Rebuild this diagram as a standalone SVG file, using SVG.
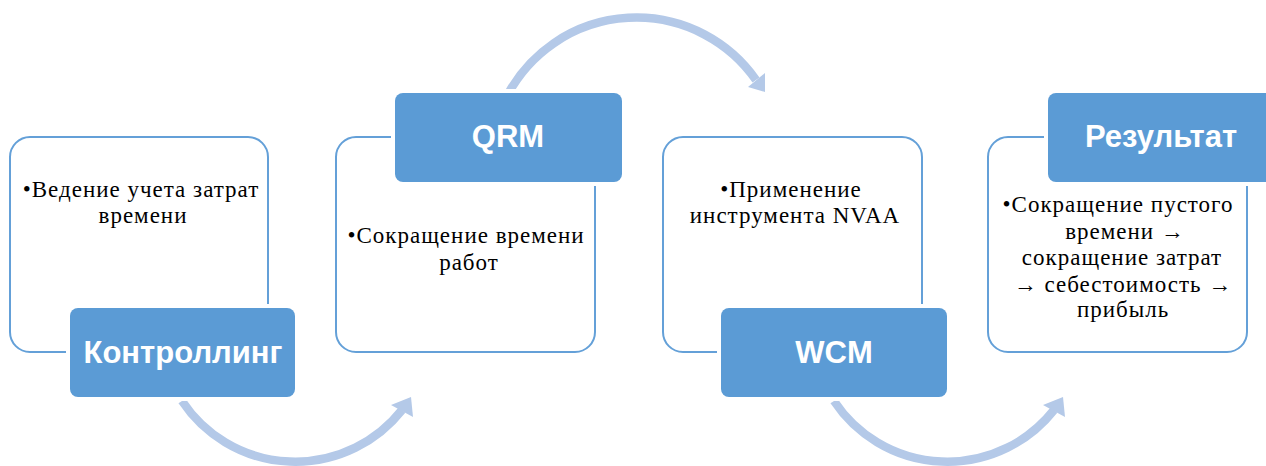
<svg xmlns="http://www.w3.org/2000/svg" width="1266" height="466" viewBox="0 0 1266 466">
<style>
.card{fill:#ffffff;stroke:#64a0d8;stroke-width:2}
.halo{fill:#ffffff}
.head{fill:#5b9bd5}
.ht{font-family:"Liberation Sans",Arial,sans-serif;font-weight:bold;font-size:31px;fill:#ffffff;text-anchor:middle}
.bt{font-family:"Liberation Serif","Times New Roman",serif;font-size:23px;letter-spacing:1px;fill:#000000;text-anchor:middle}
.arc{fill:none;stroke:#b4c9e8;stroke-width:8.5}
.ah{fill:#b4c9e8}
</style>
<rect width="1266" height="466" fill="#ffffff"/>
<g id="connectors">
<path class="arc" d="M182,401 A136,136 0 0 0 402,410"/>
<polygon class="ah" points="411,397 391,405 413,417"/>
<path class="arc" d="M508,94 A146,146 0 0 1 756,80"/>
<polygon class="ah" points="765,92 748,87 765,73"/>
<path class="arc" d="M834,401 A136,136 0 0 0 1054,410"/>
<polygon class="ah" points="1063,397 1043,405 1065,417"/>
</g>
<g id="node-kontrolling">
<rect class="card" x="10" y="137" width="258" height="215" rx="20"/>
<text class="bt" x="141" y="197">•Ведение учета затрат</text>
<text class="bt" x="143" y="223">времени</text>
<rect class="halo" x="66" y="304" width="233" height="97" rx="11"/>
<rect class="head" x="70" y="308" width="225" height="89" rx="8"/>
<text class="ht" x="183" y="363">Контроллинг</text>
</g>
<g id="node-qrm">
<rect class="card" x="336" y="137" width="259" height="215" rx="20"/>
<text class="bt" x="466" y="243">•Сокращение времени</text>
<text class="bt" x="469" y="270">работ</text>
<rect class="halo" x="391" y="89" width="235" height="97" rx="11"/>
<rect class="head" x="395" y="93" width="227" height="89" rx="8"/>
<text class="ht" x="508" y="147">QRM</text>
</g>
<g id="node-wcm">
<rect class="card" x="663" y="137" width="259" height="215" rx="20"/>
<text class="bt" x="791" y="197">•Применение</text>
<text class="bt" x="795" y="223">инструмента NVAA</text>
<rect class="halo" x="717" y="304" width="234" height="97" rx="11"/>
<rect class="head" x="721" y="308" width="226" height="89" rx="8"/>
<text class="ht" x="834" y="363">WCM</text>
</g>
<g id="node-result">
<rect class="card" x="988" y="137" width="259" height="215" rx="20"/>
<text class="bt" x="1118" y="212">•Сокращение пустого</text>
<text class="bt" x="1125" y="239">времени →</text>
<text class="bt" x="1122" y="265">сокращение затрат</text>
<text class="bt" x="1123" y="292">→ себестоимость  →</text>
<text class="bt" x="1123" y="317">прибыль</text>
<rect class="halo" x="1044" y="89" width="235" height="97" rx="11"/>
<rect class="head" x="1048" y="93" width="227" height="89" rx="8"/>
<text class="ht" x="1161" y="147">Результат</text>
</g>
</svg>
